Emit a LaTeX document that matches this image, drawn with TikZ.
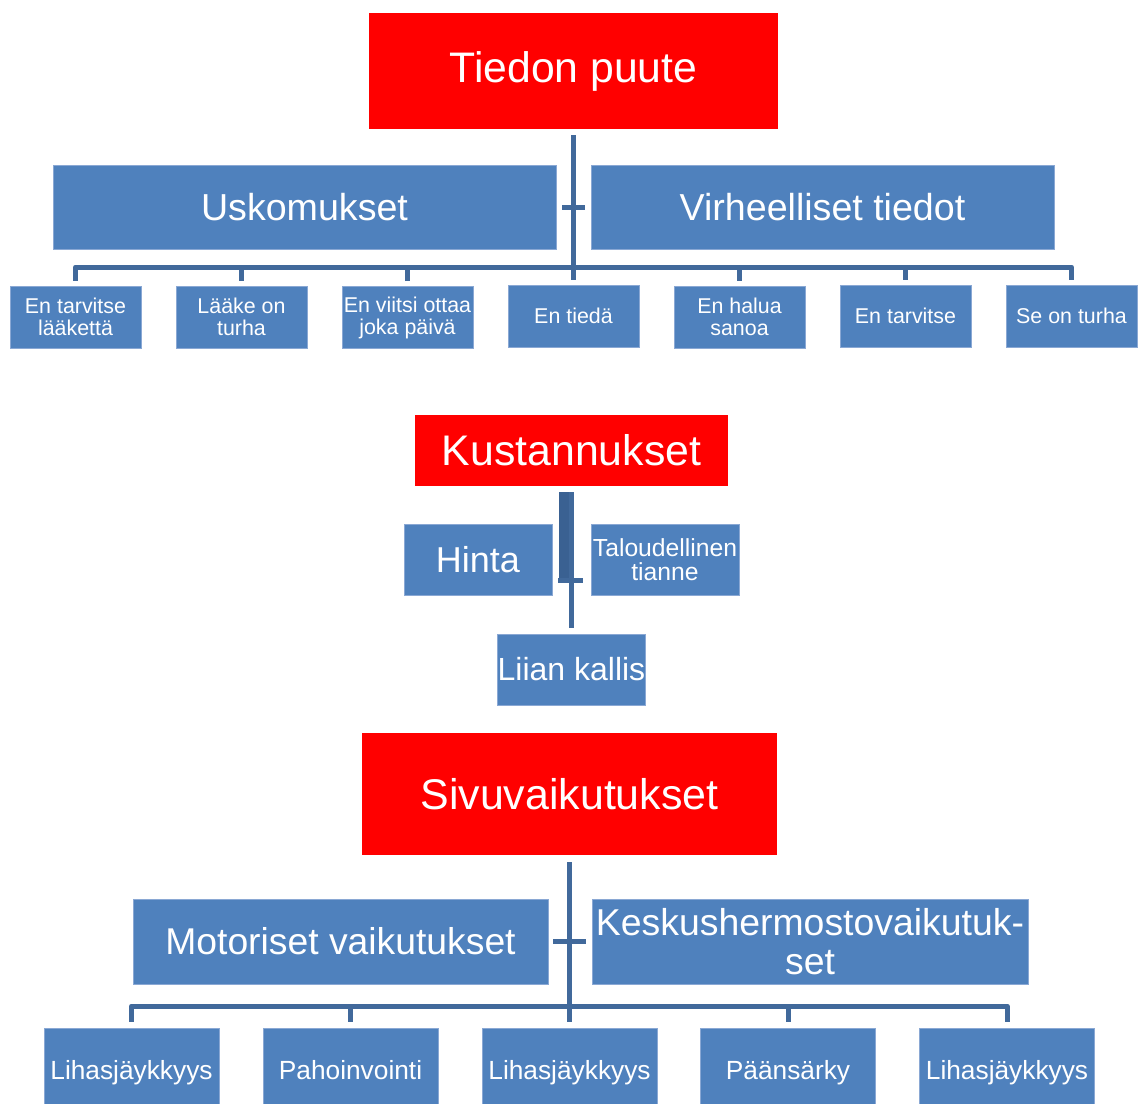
\documentclass[tikz,border=0pt]{standalone}
\usepackage{fontspec}
\setmainfont{Liberation Sans}
\usetikzlibrary{calc}
\definecolor{boxblue}{HTML}{4F81BD}
\definecolor{edgeblue}{HTML}{8AA8D4}
\definecolor{connblue}{HTML}{41699B}
\definecolor{conndark}{HTML}{3A6192}
\newcommand{\fs}[2]{\fontsize{#1pt}{#2pt}\selectfont}
\begin{document}
\begin{tikzpicture}[x=1pt,y=-1pt,
  redbox/.style={rectangle, fill=red, text=white, inner sep=0pt, align=center},
  bluebox/.style={rectangle, fill=boxblue, draw=edgeblue, line width=0.8pt, text=white, inner sep=0pt, align=center},
  leafbox/.style={bluebox, minimum width=131pt, minimum height=62pt, font=\fs{21.4}{22}},
  lowbox/.style={bluebox, minimum width=175pt, minimum height=84pt, font=\fs{26.3}{28}, text height=23pt, text depth=3.4pt},
  conn/.style={draw=connblue, line width=5pt, line join=round}]
\useasboundingbox (0,0) rectangle (1139,1103);
\fill[white] (0,0) rectangle (1139,1103);

% ---- Tiedon puute ----
\node[redbox, minimum width=409pt, minimum height=116pt, font=\fs{42.7}{50}] (tp) at (573.5,71) {\raisebox{-2pt}{Tiedon puute}};
\node[bluebox, minimum width=503pt, minimum height=84pt, font=\fs{37.6}{44}] (us) at (304.5,207) {Uskomukset};
\node[bluebox, minimum width=463pt, minimum height=84pt, font=\fs{37.6}{44}] (vt) at (822.5,207) {Virheelliset tiedot};
\node[leafbox] (l1) at (75.5,317) {En tarvitse\\lääkettä};
\node[leafbox] (l2) at (241.5,317) {Lääke on\\turha};
\node[leafbox] (l3) at (407.5,317.5) {En viitsi ottaa\\joka päivä};
\node[leafbox] (l4) at (573.5,316) {En tiedä};
\node[leafbox] (l5) at (739.5,317) {En halua\\sanoa};
\node[leafbox] (l6) at (905.5,316) {En tarvitse};
\node[leafbox] (l7) at (1071.5,316) {Se on turha};

\coordinate (bus1) at (573.5,267);
\draw[conn] ([yshift=-6pt]tp.south) -- ([yshift=5pt]l4.north);
\draw[conn] ([yshift=5pt]l1.north) |- (bus1) -| ([yshift=5pt]l7.north);
\foreach \n in {l2,l3,l5,l6} \draw[conn] ([yshift=5pt]\n.north) -- (\n.north |- bus1);
\draw[conn] ([xshift=6pt]us.east) -- ([xshift=-6pt]vt.west);

% ---- Kustannukset ----
\node[redbox, minimum width=313pt, minimum height=71pt, font=\fs{42.8}{50}] (ku) at (571.5,450.5) {Kustannukset};
\node[bluebox, minimum width=148pt, minimum height=71pt, font=\fs{36}{42}] (hi) at (478,559.5) {Hinta};
\node[bluebox, minimum width=148pt, minimum height=71pt, font=\fs{24.7}{24}] (tl) at (665,559.5) {Taloudellinen\\tianne};
\node[bluebox, minimum width=148pt, minimum height=71pt, font=\fs{32}{38}] (lk) at (571.5,669.5) {Liian kallis};

\coordinate (kt) at ([yshift=-6pt]ku.south);
\coordinate (kj) at (571.5,580.5);
\coordinate (kjl) at (564,583);
\draw[conn, draw=conndark, line width=11pt, line join=miter] (kjl |- kt) -- (kjl);
\draw[conn, line join=miter] (kt) -- ([yshift=6pt]lk.north);
\draw[conn, line join=miter] ($(kj -| hi.east)+(6,0)$) -- ($(kj -| tl.west)+(-8,0)$);

% ---- Sivuvaikutukset ----
\node[redbox, minimum width=415pt, minimum height=122pt, font=\fs{42.9}{50}] (sv) at (569.5,794) {Sivuvaikutukset};
\node[bluebox, minimum width=415pt, minimum height=85pt, font=\fs{37.3}{42}] (mv) at (340.5,941.5) {Motoriset vaikutukset};
\node[bluebox, minimum width=436pt, minimum height=85pt, font=\fs{37.4}{39}] (kh) at (810,941.5) {Keskushermostovaikutuk-\\set};
\node[lowbox] (b1) at (131.5,1070) {Lihasjäykkyys};
\node[lowbox] (b2) at (350.5,1070) {Pahoinvointi};
\node[lowbox] (b3) at (569.5,1070) {Lihasjäykkyys};
\node[lowbox] (b4) at (788,1070) {Päänsärky};
\node[lowbox] (b5) at (1007,1070) {Lihasjäykkyys};

\coordinate (bus3) at (569.5,1006);
\draw[conn] ([yshift=-7pt]sv.south) -- ([yshift=6pt]b3.north);
\draw[conn] ([yshift=6pt]b1.north) |- (bus3) -| ([yshift=6pt]b5.north);
\foreach \n in {b2,b4} \draw[conn] ([yshift=6pt]\n.north) -- (\n.north |- bus3);
\draw[conn] ([xshift=5pt]mv.east) -- ([xshift=-6pt]kh.west);
\end{tikzpicture}
\end{document}
